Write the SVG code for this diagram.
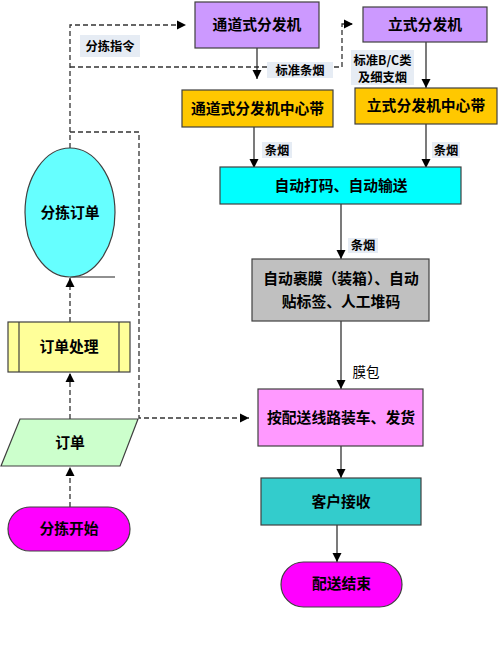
<svg xmlns="http://www.w3.org/2000/svg" width="499" height="653" viewBox="0 0 499 653">
<style>
.box{stroke:#404040;stroke-width:1.2}
.t{font-family:"Noto Sans CJK SC","Liberation Sans",sans-serif;font-weight:bold;font-size:14.8px;fill:#000;text-anchor:middle}
.lt{font-family:"Noto Sans CJK SC","Liberation Sans",sans-serif;font-weight:bold;font-size:12.3px;fill:#000;text-anchor:middle}
.lbg{fill:#E6ECF4}
.dash{fill:none;stroke:#333;stroke-width:1.3;stroke-dasharray:5,3}
.solid{fill:none;stroke:#222;stroke-width:1.2}
</style>
<defs>
<marker id="ah" markerWidth="10" markerHeight="10" refX="9" refY="5" orient="auto" markerUnits="userSpaceOnUse">
<path d="M0,0.5 L9,5 L0,9.5 Z" fill="#000"/>
</marker>
</defs>
<rect width="499" height="653" fill="#fff"/>

<g id="connectors">
<path class="dash" d="M70,148 V25 H186" marker-end="url(#ah)"/>
<path class="dash" d="M70,67 H342 V24 H353" marker-end="url(#ah)"/>
<path class="dash" d="M70,132 H139 V418 H249" marker-end="url(#ah)"/>
<path class="dash" d="M70,322 V278" marker-end="url(#ah)"/>
<path class="dash" d="M70,419 V373" marker-end="url(#ah)"/>
<path class="dash" d="M70,507 V467" marker-end="url(#ah)"/>
<path class="solid" d="M70,277 H115"/>
<path class="solid" d="M257,48 V79" marker-end="url(#ah)"/>
<path class="solid" d="M426,42 V88" marker-end="url(#ah)"/>
<path class="solid" d="M254,127 V168" marker-end="url(#ah)"/>
<path class="solid" d="M426,124 V168" marker-end="url(#ah)"/>
<path class="solid" d="M341,204 V259" marker-end="url(#ah)"/>
<path class="solid" d="M341,321 V389" marker-end="url(#ah)"/>
<path class="solid" d="M341,446 V478" marker-end="url(#ah)"/>
<path class="solid" d="M337,525 V562" marker-end="url(#ah)"/>
<g id="labels">
<rect class="lbg" x="80" y="35" width="60" height="22"/>
<text class="lt" x="110" y="50.5">分拣指令</text>
<rect class="lbg" x="267" y="62" width="66" height="16"/>
<text class="lt" x="300" y="74.5">标准条烟</text>
<rect class="lbg" x="351" y="50" width="63" height="35"/>
<text class="lt" x="382.5" y="65">标准B/C类</text>
<text class="lt" x="382.5" y="82">及细支烟</text>
<rect class="lbg" x="262" y="142" width="30" height="16"/>
<text class="lt" x="277" y="154.5">条烟</text>
<rect class="lbg" x="432" y="142" width="28" height="16"/>
<text class="lt" x="446" y="154.5">条烟</text>
<rect class="lbg" x="348" y="238" width="30" height="15"/>
<text class="lt" x="363" y="250">条烟</text>
<text x="366" y="377" style="font-family:'Noto Sans CJK SC',sans-serif;font-size:13.5px;fill:#000;text-anchor:middle">膜包</text>
</g>
</g>

<g id="n-tongdao-fj">
<rect class="box" x="195" y="2" width="124" height="46" fill="#CC99FF"/>
<text class="t" x="257" y="30">通道式分发机</text>
</g>
<g id="n-lishi-fj">
<rect class="box" x="363" y="7" width="124" height="35" fill="#CC99FF"/>
<text class="t" x="425" y="30">立式分发机</text>
</g>
<g id="n-tongdao-zxd">
<rect class="box" x="182" y="90" width="151" height="37" fill="#FFC800"/>
<text class="t" x="257.5" y="113.5">通道式分发机中心带</text>
</g>
<g id="n-lishi-zxd">
<rect class="box" x="355" y="88" width="142" height="36" fill="#FFC800"/>
<text class="t" x="426" y="111">立式分发机中心带</text>
</g>
<g id="n-dama">
<rect class="box" x="220" y="167" width="241" height="37" fill="#00FFFF"/>
<text class="t" x="341" y="191">自动打码、自动输送</text>
</g>
<g id="n-guomo">
<rect class="box" x="252" y="259" width="177" height="62" fill="#C0C0C0"/>
<text class="t" x="341" y="284">自动裹膜（装箱）、自动</text>
<text class="t" x="341" y="307">贴标签、人工堆码</text>
</g>
<g id="n-zhuangche">
<rect class="box" x="258" y="389" width="165" height="57" fill="#FF99FF"/>
<text class="t" x="341" y="423">按配送线路装车、发货</text>
</g>
<g id="n-kehu">
<rect class="box" x="261" y="478" width="160" height="47" fill="#33CCCC"/>
<text class="t" x="341" y="507">客户接收</text>
</g>
<g id="n-end">
<rect class="box" x="281" y="562" width="121" height="45" rx="22.5" fill="#FF00FF"/>
<text class="t" x="341.5" y="589">配送结束</text>
</g>
<g id="n-start">
<rect class="box" x="8" y="507" width="122" height="44" rx="22" fill="#FF00FF"/>
<text class="t" x="69" y="534">分拣开始</text>
</g>
<g id="n-dingdan">
<polygon class="box" points="20,419 138,419 120,466 1,466" fill="#CCFFCC"/>
<text class="t" x="70" y="448">订单</text>
</g>
<g id="n-chuli">
<rect class="box" x="8" y="322" width="122" height="50" fill="#FFFF99"/>
<line class="box" x1="19" y1="322" x2="19" y2="372"/>
<line class="box" x1="119" y1="322" x2="119" y2="372"/>
<text class="t" x="69" y="352">订单处理</text>
</g>
<g id="n-fenjian-dd">
<ellipse class="box" cx="70" cy="212.5" rx="45" ry="64.5" fill="#66FFFF"/>
<text class="t" x="70" y="218">分拣订单</text>
</g>
</svg>
